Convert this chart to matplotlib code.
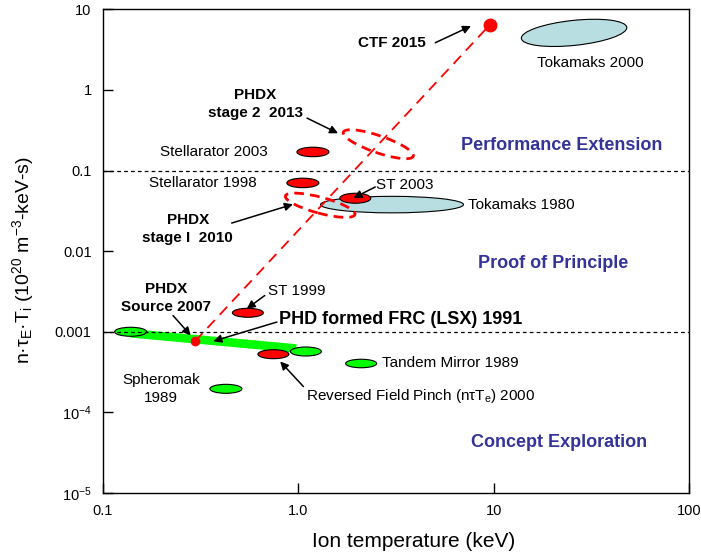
import matplotlib
matplotlib.use("Agg")
import matplotlib.pyplot as plt
from matplotlib import transforms
from matplotlib.patches import Ellipse

plt.rcParams["font.family"] = ["Liberation Sans", "DejaVu Sans"]
plt.rcParams["mathtext.default"] = "regular"

RED = "#ff0000"
GREEN = "#00ff00"
LIGHTBLUE = "#b9dee2"
NAVY = "#333399"

# confinement devices: ion temperature (keV), n*tau*T (1e20 m^-3 keV s)
DEV_NAMES = ["Tokamaks 2000", "Tokamaks 1980", "Stellarator 2003", "Stellarator 1998",
             "ST 2003", "ST 1999", "RFP 2000", "FRC 1991 low", "FRC 1991 high",
             "Spheromak 1989", "Tandem Mirror 1989"]
DEV_TI = [25.8, 3.02, 1.19, 1.057, 1.96, 0.553, 0.747, 0.139, 1.095, 0.427, 2.10]
DEV_NTT = [5.1, 0.0378, 0.170, 0.0702, 0.0453, 1.72e-3, 5.27e-4, 1.0e-3, 5.69e-4, 1.96e-4, 4.04e-4]

# PHDX roadmap
PHDX_NAMES = ["Source 2007", "stage I 2010", "stage 2 2013", "CTF 2015"]
PHDX_TI = [0.297, 1.296, 2.57, 9.54]
PHDX_NTT = [7.64e-4, 0.0371, 0.212, 6.38]

# LSX formed FRC band
FRC_TI = [0.139, 0.977]
FRC_NTT = [9.58e-4, 6.2e-4]

XTICKS = [0.1, 1, 10, 100]
XTICKLABELS = ["0.1", "1.0", "10", "100"]
YTICKS = [1e-5, 1e-4, 1e-3, 1e-2, 0.1, 1, 10]
YTICKLABELS = ["10$^{-5}$", "10$^{-4}$", "0.001", "0.01", "0.1", "1", "10"]
THRESHOLDS = [0.1, 0.001]

fig = plt.figure(figsize=(7.01, 5.57), dpi=100)
ax = fig.add_axes([0.1465, 0.1149, 0.8365, 0.8684])
ax.set_xscale("log")
ax.set_yscale("log")
ax.set_xlim(0.1, 100)
ax.set_ylim(1e-5, 10)


def blob(x, y, w, h, angle=0, fc=RED, dashed=False, z=3):
    # ellipse sized in inches, centred on a data point
    tr = fig.dpi_scale_trans + transforms.ScaledTranslation(x, y, ax.transData)
    if dashed:
        e = Ellipse((0, 0), w, h, angle=angle, transform=tr, fill=False,
                    edgecolor=RED, lw=2.0, linestyle=(0, (3.5, 2.2)), zorder=z)
    else:
        e = Ellipse((0, 0), w, h, angle=angle, transform=tr, facecolor=fc,
                    edgecolor="black", lw=0.8, zorder=z)
    ax.add_patch(e)


# FRC band
ax.plot(FRC_TI, FRC_NTT, color=GREEN, lw=6.2, solid_capstyle="butt", zorder=2)

styles = {
    "Tokamaks 2000": (1.06, 0.25, 6, LIGHTBLUE),
    "Tokamaks 1980": (1.43, 0.165, 0, LIGHTBLUE),
    "Stellarator 2003": (0.32, 0.095, 0, RED),
    "Stellarator 1998": (0.32, 0.095, 0, RED),
    "ST 2003": (0.31, 0.10, 0, RED),
    "ST 1999": (0.31, 0.09, 0, RED),
    "RFP 2000": (0.31, 0.09, 0, RED),
    "FRC 1991 low": (0.32, 0.09, 0, GREEN),
    "FRC 1991 high": (0.31, 0.09, 0, GREEN),
    "Spheromak 1989": (0.32, 0.09, 0, GREEN),
    "Tandem Mirror 1989": (0.31, 0.085, 0, GREEN),
}
for name, x, y in zip(DEV_NAMES, DEV_TI, DEV_NTT):
    w, h, a, c = styles[name]
    z = 2 if name == "Tokamaks 1980" else 3
    blob(x, y, w, h, a, c, z=z)

# PHDX path
ax.plot([PHDX_TI[0], PHDX_TI[-1]], [PHDX_NTT[0], PHDX_NTT[-1]], color=RED, lw=1.3,
        dashes=(6, 4), zorder=4)
blob(PHDX_TI[1], PHDX_NTT[1], 0.72, 0.16, -15, dashed=True, z=4)
blob(PHDX_TI[2], PHDX_NTT[2], 0.74, 0.17, -19, dashed=True, z=4)
ax.plot(PHDX_TI[0], PHDX_NTT[0], "o", color=RED, ms=6, zorder=5)
ax.plot(PHDX_TI[-1], PHDX_NTT[-1], "o", color=RED, ms=9, zorder=5)

for yv in THRESHOLDS:
    ax.axhline(yv, color="black", lw=0.9, dashes=(3, 2.5), zorder=6)

# labels
fs = 11
ax.text(31.3, 2.15, "Tokamaks 2000", fontsize=fs, ha="center", va="center")
ax.text(7.42, 0.0378, "Tokamaks 1980", fontsize=fs, ha="left", va="center")
ax.text(0.702, 0.170, "Stellarator 2003", fontsize=fs, ha="right", va="center")
ax.text(0.614, 0.0695, "Stellarator 1998", fontsize=fs, ha="right", va="center")
ax.text(2.51, 0.067, "ST 2003", fontsize=fs, ha="left", va="center")
ax.text(0.702, 3.17e-3, "ST 1999", fontsize=fs, ha="left", va="center")
ax.text(1.10, 1.58e-4, "Reversed Field Pinch (nτT$_e$) 2000", fontsize=fs, ha="left", va="center")
ax.text(0.199, 1.95e-4, "Spheromak\n1989", fontsize=fs, ha="center", va="center", linespacing=1.35)
ax.text(2.68, 4.04e-4, "Tandem Mirror 1989", fontsize=fs, ha="left", va="center")
ax.text(3.02, 3.85, "CTF 2015", fontsize=fs, ha="center", va="center", weight="bold")
ax.text(0.603, 0.676, "PHDX\nstage 2  2013", fontsize=fs, ha="center", va="center",
        weight="bold", linespacing=1.35)
ax.text(0.272, 0.0188, "PHDX\nstage I  2010", fontsize=fs, ha="center", va="center",
        weight="bold", linespacing=1.35)
ax.text(0.210, 2.63e-3, "PHDX\nSource 2007", fontsize=fs, ha="center", va="center",
        weight="bold", linespacing=1.35)
ax.text(0.801, 1.41e-3, "PHD formed FRC (LSX) 1991", fontsize=13, ha="left", va="center",
        weight="bold")

ax.text(22.4, 0.206, "Performance Extension", fontsize=13, ha="center", va="center",
        weight="bold", color=NAVY)
ax.text(20.2, 7.05e-3, "Proof of Principle", fontsize=13, ha="center", va="center",
        weight="bold", color=NAVY)
ax.text(21.5, 4.18e-5, "Concept Exploration", fontsize=13, ha="center", va="center",
        weight="bold", color=NAVY)

# arrows: (tail, head)
ARROWS = [
    ((5.03, 3.85), (7.66, 6.2)),
    ((1.11, 0.447), (1.60, 0.290)),
    ((0.457, 0.0223), (0.940, 0.0381)),
    ((2.48, 0.0625), (1.92, 0.0457)),
    ((0.675, 2.82e-3), (0.546, 1.93e-3)),
    ((0.778, 1.32e-3), (0.368, 7.64e-4)),
    ((0.229, 1.59e-3), (0.282, 9.0e-4)),
    ((1.064, 2.09e-4), (0.809, 4.28e-4)),
]
for tail, head in ARROWS:
    ax.annotate("", xy=head, xytext=tail,
                arrowprops=dict(arrowstyle="-|>", color="black", lw=1.1,
                                mutation_scale=12, shrinkA=0, shrinkB=0),
                zorder=7)

ax.set_xticks(XTICKS)
ax.set_xticklabels(XTICKLABELS)
ax.set_yticks(YTICKS)
ax.set_yticklabels(YTICKLABELS)
ax.minorticks_off()
ax.tick_params(direction="in", length=7, width=1, labelsize=10.5, pad=8)
for s in ax.spines.values():
    s.set_linewidth(1.0)

ax.set_xlabel("Ion temperature (keV)", fontsize=15)
ax.set_ylabel(r"n·τ$_E$·T$_i$ (10$^{20}$ m$^{-3}$-keV-s)", fontsize=14)
ax.xaxis.set_label_coords(0.531, -0.08)
ax.yaxis.set_label_coords(-0.113, 0.482)

fig.savefig("out.png", dpi=100)
